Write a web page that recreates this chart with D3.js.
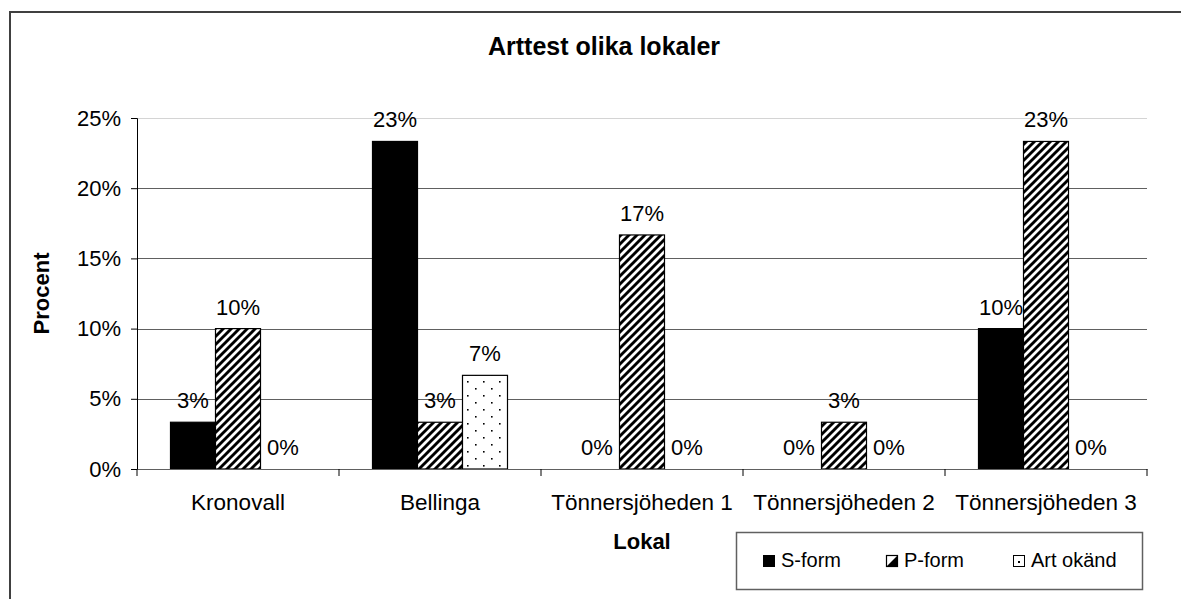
<!DOCTYPE html>
<html>
<head>
<meta charset="utf-8">
<script src="https://cdn.jsdelivr.net/npm/d3@7"></script>
<style>
  html, body { margin: 0; padding: 0; background: #fff; }
  svg { display: block; font-family: "Liberation Sans", Arial, sans-serif; }
</style>
</head>
<body>
<svg id="chart" width="1181" height="599"></svg>
<script>
const title = "Arttest olika lokaler";
const categories = ["Kronovall", "Bellinga", "Tönnersjöheden 1", "Tönnersjöheden 2", "Tönnersjöheden 3"];
const seriesNames = ["S-form", "P-form", "Art okänd"];
const sForm = [3.33, 23.33, 0, 0, 10];
const pForm = [10, 3.33, 16.67, 3.33, 23.33];
const artOkand = [0, 6.67, 0, 0, 0];
const yTicks = [0, 5, 10, 15, 20, 25];
const xTitle = "Lokal";
const yTitle = "Procent";

const seriesValues = [sForm, pForm, artOkand];
const fills = ["#000", "url(#hatch)", "url(#dots)"];

const svg = d3.select("#chart");
const defs = svg.append("defs");

const hatch = defs.append("pattern").attr("id", "hatch")
  .attr("patternUnits", "userSpaceOnUse").attr("width", 8).attr("height", 8);
hatch.append("rect").attr("width", 8).attr("height", 8).attr("fill", "#fff");
hatch.append("path").attr("d", "M-2,2 L2,-2 M0,8 L8,0 M6,10 L10,6")
  .attr("stroke", "#000").attr("stroke-width", 2.9);

const dots = defs.append("pattern").attr("id", "dots")
  .attr("patternUnits", "userSpaceOnUse").attr("width", 16).attr("height", 14);
dots.append("rect").attr("width", 16).attr("height", 14).attr("fill", "#fff");
dots.append("rect").attr("x", 3).attr("y", 3).attr("width", 1.6).attr("height", 1.6).attr("fill", "#000");
dots.append("rect").attr("x", 11).attr("y", 10).attr("width", 1.6).attr("height", 1.6).attr("fill", "#000");

// outer border
svg.append("rect").attr("x", 10).attr("y", 12).attr("width", 1200).attr("height", 620)
  .attr("fill", "none").attr("stroke", "#404040").attr("stroke-width", 2);

const plot = { left: 137, right: 1147, top: 118, bottom: 469 };

const x = d3.scaleBand().domain(categories).range([plot.left, plot.right]);
const xs = d3.scaleBand().domain(seriesNames).range([33.5, x.bandwidth() - 33.5]);
const y = d3.scaleLinear().domain([0, 25]).range([plot.bottom, plot.top]);

// gridlines
svg.append("g").selectAll("line").data(yTicks.filter(d => d > 0)).join("line")
  .attr("x1", plot.left).attr("x2", plot.right)
  .attr("y1", d => Math.round(y(d)) + 0.5).attr("y2", d => Math.round(y(d)) + 0.5)
  .attr("stroke", d => d === 25 ? "#d4d4d4" : "#606060").attr("stroke-width", 1);

// bars
const barG = svg.append("g");
seriesValues.forEach((vals, si) => {
  barG.selectAll(null).data(vals.map((v, i) => ({ v, c: categories[i] }))).join("rect")
    .attr("x", d => x(d.c) + xs(seriesNames[si]))
    .attr("y", d => y(d.v))
    .attr("width", xs.bandwidth())
    .attr("height", d => plot.bottom - y(d.v))
    .attr("fill", fills[si])
    .attr("stroke", d => d.v > 0 ? "#000" : "none")
    .attr("stroke-width", 1.2);
});

// data labels
seriesValues.forEach((vals, si) => {
  barG.selectAll(null).data(vals.map((v, i) => ({ v, c: categories[i] }))).join("text")
    .attr("x", d => x(d.c) + xs(seriesNames[si]) + xs.bandwidth() / 2)
    .attr("y", d => y(d.v) - 14)
    .attr("text-anchor", "middle")
    .attr("font-size", 22)
    .attr("fill", "#000")
    .text(d => Math.round(d.v) + "%");
});

// y axis
const yAxis = d3.axisLeft(y).tickValues(yTicks).tickFormat(d => d + "%").tickSize(6).tickPadding(10);
const gy = svg.append("g").attr("transform", `translate(${plot.left},0)`).call(yAxis);
gy.select(".domain").attr("stroke", "#000");
gy.selectAll(".tick line").attr("stroke", "#000");
gy.selectAll(".tick text").attr("font-size", 22).attr("font-family", "Liberation Sans, Arial, sans-serif").attr("fill", "#000");

// x axis
const xAxis = d3.axisBottom(x).tickSize(0).tickPadding(0);
const gx = svg.append("g").attr("transform", `translate(0,${plot.bottom})`).call(xAxis);
gx.select(".domain").attr("stroke", "#606060");
gx.selectAll(".tick text").attr("font-size", 22.5).attr("font-family", "Liberation Sans, Arial, sans-serif")
  .attr("fill", "#000").attr("dy", 0).attr("y", 41);
// category separators
svg.append("g").selectAll("line").data(categories.slice(1).concat(["__end"])).join("line")
  .attr("x1", d => d === "__end" ? plot.right : x(d)).attr("x2", d => d === "__end" ? plot.right : x(d))
  .attr("y1", plot.bottom).attr("y2", plot.bottom + 7)
  .attr("stroke", "#000").attr("stroke-width", 1);
svg.append("line").attr("x1", plot.left).attr("x2", plot.left)
  .attr("y1", plot.bottom).attr("y2", plot.bottom + 7).attr("stroke", "#000");

// titles
svg.append("text").attr("x", 604).attr("y", 55).attr("text-anchor", "middle")
  .attr("font-size", 25).attr("font-weight", "bold").text(title);
svg.append("text").attr("x", (plot.left + plot.right) / 2).attr("y", 549).attr("text-anchor", "middle")
  .attr("font-size", 22).attr("font-weight", "bold").text(xTitle);
svg.append("text").attr("transform", `translate(49,${(plot.top + plot.bottom) / 2}) rotate(-90)`)
  .attr("text-anchor", "middle").attr("font-size", 22).attr("font-weight", "bold").text(yTitle);

// legend
const lg = svg.append("g");
lg.append("rect").attr("x", 736.5).attr("y", 532.5).attr("width", 406).attr("height", 57)
  .attr("fill", "#fff").attr("stroke", "#606060").attr("stroke-width", 1.5);
const legX = [763, 886, 1013];
seriesNames.forEach((name, i) => {
  const g = lg.append("g").attr("transform", `translate(${legX[i]},555)`);
  if (i === 0) {
    g.append("rect").attr("width", 12).attr("height", 12).attr("fill", "#000");
  } else if (i === 1) {
    g.append("rect").attr("x", 0.5).attr("y", 0.5).attr("width", 11).attr("height", 11).attr("fill", "#fff").attr("stroke", "#000").attr("stroke-width", 1.2);
    g.append("path").attr("d", "M11.5,0.5 L11.5,11.5 L0.5,11.5 Z").attr("fill", "#000");
  } else {
    g.append("rect").attr("x", 0.5).attr("y", 0.5).attr("width", 11).attr("height", 11).attr("fill", "#fff").attr("stroke", "#000").attr("stroke-width", 1);
    g.append("rect").attr("x", 5).attr("y", 6).attr("width", 2).attr("height", 2).attr("fill", "#000");
  }
  g.append("text").attr("x", 18).attr("y", 12).attr("font-size", 20).attr("fill", "#000").text(name);
});
</script>
</body>
</html>
